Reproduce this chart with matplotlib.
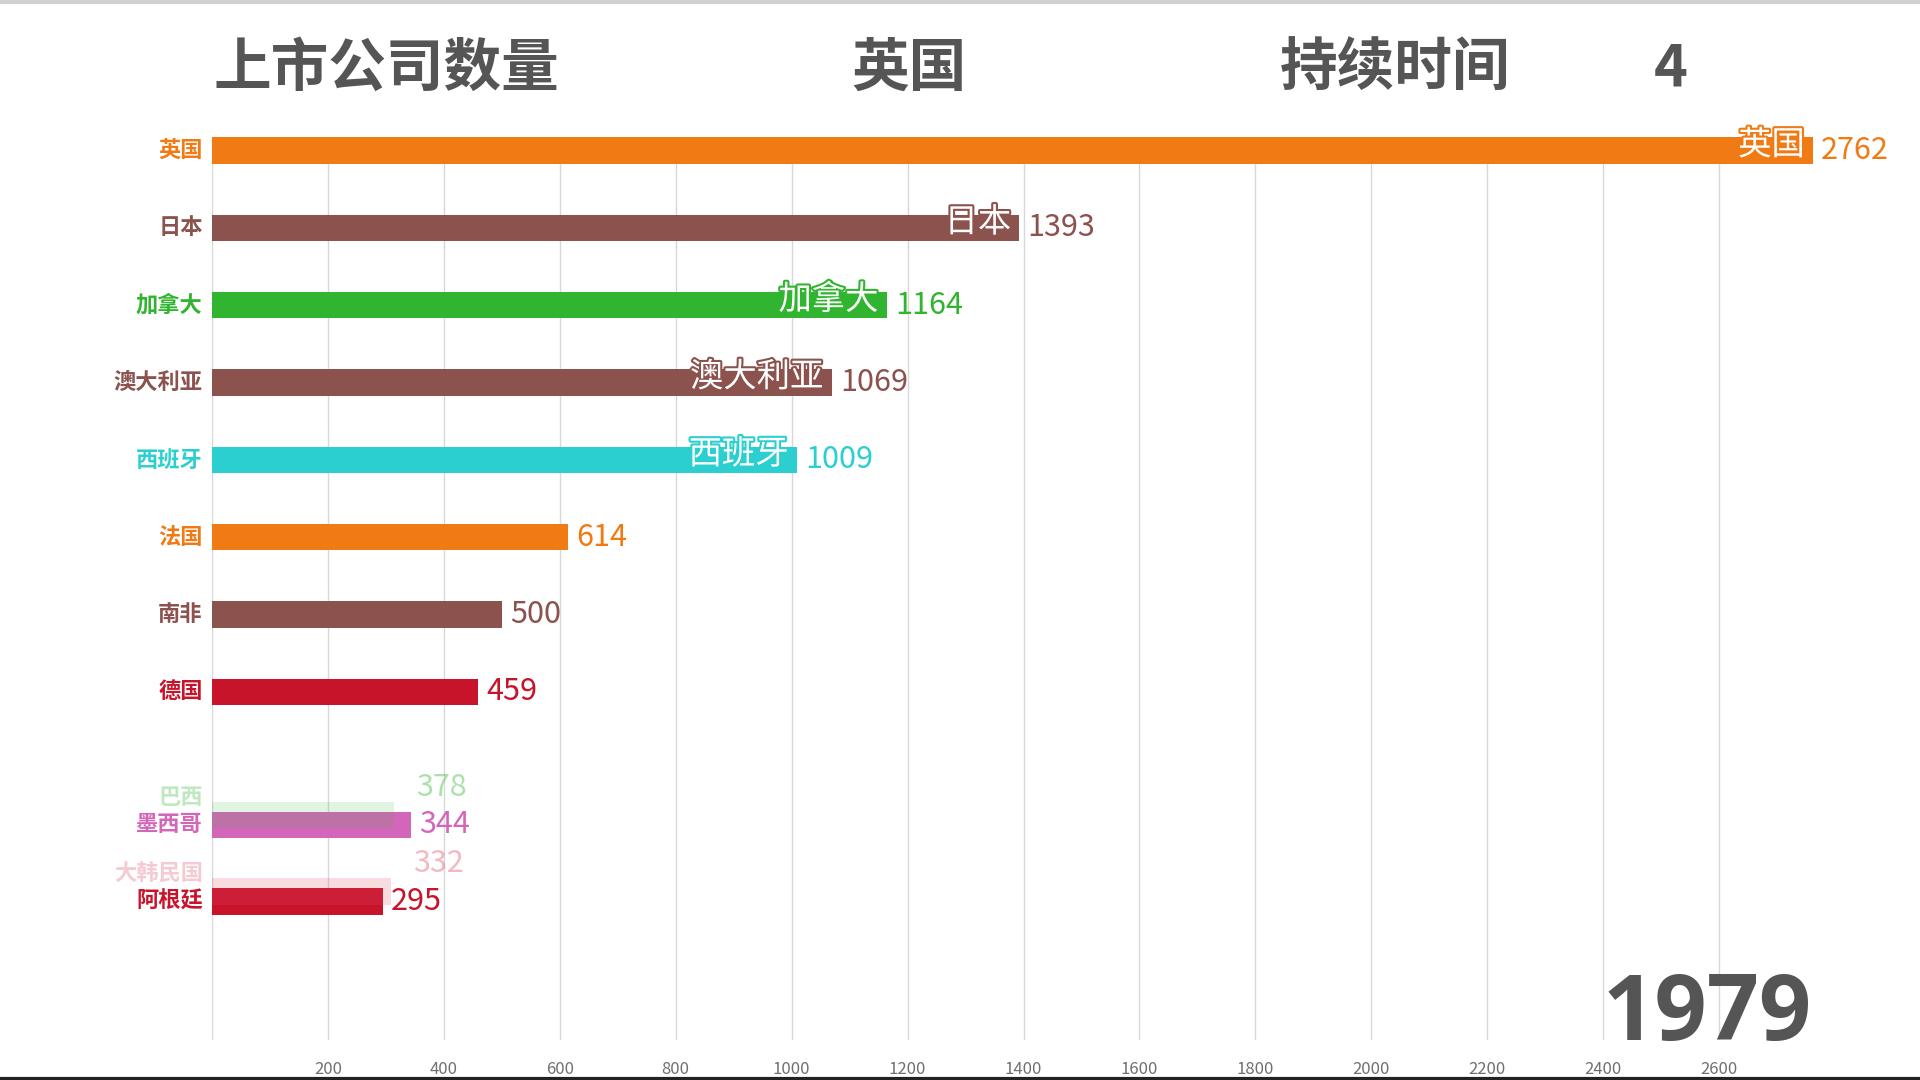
import matplotlib
matplotlib.use("Agg")
import matplotlib.pyplot as plt
import matplotlib.patheffects as pe
from matplotlib.lines import Line2D

plt.rcParams['font.family'] = ['Noto Sans CJK SC', 'DejaVu Sans']

# ---------------- data ----------------
countries = ['英国', '日本', '加拿大', '澳大利亚', '西班牙', '法国', '南非', '德国',
             '墨西哥', '阿根廷', '巴西', '大韩民国']
values = [2762, 1393, 1164, 1069, 1009, 614, 500, 459, 344, 295, 378, 332]
# drawn bar lengths (exiting bars are mid-animation and shorter than their labels)
bar_lengths = [2762, 1393, 1164, 1069, 1009, 614, 500, 459, 344, 295, 314, 309]
# rank position in the animation frame (0 = top)
ranks = [0, 1, 2, 3, 4, 5, 6, 7, 8.72, 9.71, 8.59, 9.58]
colors = ['#F07A14', '#8B524E', '#31B531', '#8B524E', '#2CCFCF', '#F07A14',
          '#8B524E', '#C8142B', '#D466BA', '#C8142B', '#31B531', '#E05068']
alphas = [1, 1, 1, 1, 1, 1, 1, 1, 1, 1, 0.14, 0.2]
inner_label = [True, True, True, True, True, False, False, False, False, False, False, False]
xticks = [200, 400, 600, 800, 1000, 1200, 1400, 1600, 1800, 2000, 2200, 2400, 2600]

title_metric = '上市公司数量'
title_leader = '英国'
title_dur_label = '持续时间'
title_dur_value = '4'
year = '1979'

# ---------------- figure ----------------
W, H = 1920, 1080
fig = plt.figure(figsize=(19.2, 10.8), dpi=100)
fig.patch.set_facecolor('white')

ax_left = 212 / W
ax_right = 1893 / W
ax_top = 1 - 137 / H
ax_bottom = 1 - 1040 / H
ax = fig.add_axes([ax_left, ax_bottom, ax_right - ax_left, ax_top - ax_bottom])
ax.set_xlim(0, 2900)
ax.set_ylim(11.5, -0.176)
for s in ax.spines.values():
    s.set_visible(False)
ax.set_yticks([])
ax.set_xticks(xticks)
ax.set_xticklabels([str(t) for t in xticks], fontsize=12, color='#707070')
ax.tick_params(axis='x', length=0, pad=15)
for t in [0] + xticks:
    ax.axvline(t, color='#d8d8d8', lw=1.0, zorder=0)

bar_h = 0.34
order = [i for i in range(len(countries)) if alphas[i] == 1] + \
        [i for i in range(len(countries)) if alphas[i] < 1]
for i in order:
    c, v, L, r, col, a = countries[i], values[i], bar_lengths[i], ranks[i], colors[i], alphas[i]
    ax.barh(r, L, height=bar_h, color=col, alpha=a, zorder=3 if a == 1 else 4,
            edgecolor='none')
    faded = a < 1
    name_r = r - 0.23 if faded else r
    val_r = r - 0.36 if faded else r
    ax.text(-16, name_r, c, ha='right', va='center', fontsize=16, fontweight='bold',
            color=col, alpha=(0.3 if faded else 1), clip_on=False, zorder=5)
    ax.text(L + 14 if not faded else L + 38, val_r, str(v), ha='left', va='center',
            fontsize=22, color=col, alpha=(0.4 if faded else 1), zorder=5)
    if inner_label[i]:
        ax.text(L - 14, r - 0.07, c, ha='right', va='center', fontsize=24,
                fontweight='medium', color='white', zorder=6,
                path_effects=[pe.withStroke(linewidth=3, foreground=col)])

# ---------------- titles ----------------
tc = '#555555'
ty = 1 - 69 / H
fig.text(214 / W, ty, title_metric, fontsize=41.5, fontweight='bold', color=tc,
         ha='left', va='center')
fig.text(909 / W, ty, title_leader, fontsize=41.5, fontweight='bold', color=tc,
         ha='center', va='center')
fig.text(1280 / W, ty, title_dur_label, fontsize=41.5, fontweight='bold', color=tc,
         ha='left', va='center')
fig.text(1671 / W, ty, title_dur_value, fontsize=41.5, fontweight='bold', color=tc,
         ha='center', va='center')

fig.text(1812 / W, 1 - 1016 / H, year, fontsize=66, fontweight='bold', color=tc,
         ha='right', va='center', family=['Open Sans', 'DejaVu Sans'])

# frame edge lines
fig.add_artist(Line2D([0, 1], [1 - 1.5 / H, 1 - 1.5 / H], transform=fig.transFigure,
                      color='#d0d0d0', lw=3))
fig.add_artist(Line2D([0, 1], [1.5 / H, 1.5 / H], transform=fig.transFigure,
                      color='#222222', lw=3))

fig.savefig('out.png', dpi=100, facecolor='white')
